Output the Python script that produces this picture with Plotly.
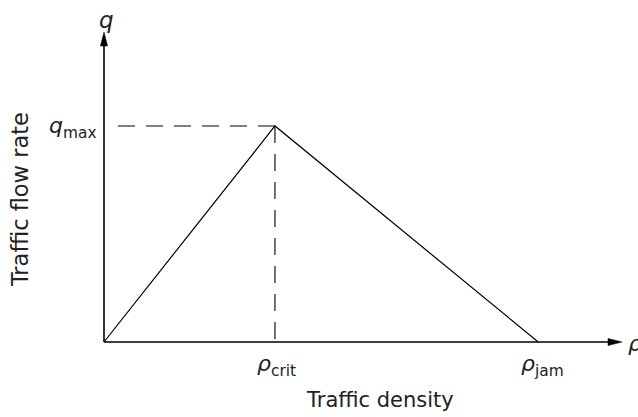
import plotly.graph_objects as go

# Schematic triangular fundamental diagram (dimensionless units)
rho_points = [0.0, 1.0, 2.54]      # origin, rho_crit, rho_jam
q_points = [0.0, 1.0, 0.0]         # flow at those densities
rho_crit = 1.0
rho_jam = 2.54
q_max = 1.0
x_end = 3.03     # end of density axis (arrow tip)
y_end = 1.435    # end of flow axis (arrow tip)

W, H = 638, 417
ML, MR, MT, MB = 104, 16, 32, 75
sx = (W - ML - MR) / x_end   # px per x unit
sy = (H - MT - MB) / y_end   # px per y unit
x_rng = [-ML / sx, (W - ML) / sx]
y_rng = [-MB / sy, (H - MB) / sy]

FONT = "DejaVu Sans, Liberation Sans, sans-serif"
TXT = "#222222"

fig = go.Figure()
fig.add_trace(go.Scatter(x=rho_points, y=q_points, mode="lines",
                         line=dict(color="black", width=1.2),
                         hoverinfo="skip", showlegend=False))
# dashed guide lines
fig.add_trace(go.Scatter(x=[rho_crit, 13 / sx], y=[q_max, q_max], mode="lines",
                         line=dict(color="black", width=1.1, dash="17px,11px"),
                         hoverinfo="skip", showlegend=False))
fig.add_trace(go.Scatter(x=[rho_crit, rho_crit], y=[q_max, 0], mode="lines",
                         line=dict(color="black", width=1.1, dash="17px,11px"),
                         hoverinfo="skip", showlegend=False))

shapes = []
head_len, head_half = 14, 3.6
# x axis
shapes.append(dict(type="line", x0=0, y0=0, x1=x_end - head_len / sx, y1=0,
                   xref="x", yref="y", line=dict(color="black", width=1.6)))
shapes.append(dict(type="path",
                   path=f"M {x_end:.5f},0 L {x_end - head_len / sx:.5f},{head_half / sy:.5f} "
                        f"L {x_end - head_len / sx:.5f},{-head_half / sy:.5f} Z",
                   xref="x", yref="y", fillcolor="black", line=dict(color="black", width=0.5)))
# y axis
shapes.append(dict(type="line", x0=0, y0=0, x1=0, y1=y_end - head_len / sy,
                   xref="x", yref="y", line=dict(color="black", width=1.6)))
shapes.append(dict(type="path",
                   path=f"M 0,{y_end:.5f} L {head_half / sx:.5f},{y_end - head_len / sy:.5f} "
                        f"L {-head_half / sx:.5f},{y_end - head_len / sy:.5f} Z",
                   xref="x", yref="y", fillcolor="black", line=dict(color="black", width=0.5)))

ann = []
def label(text, x, y, size=22, **kw):
    d = dict(text=text, x=x, y=y, xref="x", yref="y", showarrow=False,
             font=dict(family=FONT, size=size, color=TXT))
    d.update(kw)
    ann.append(d)

label("<i>q</i>", 0, y_end, size=23, xanchor="center", yanchor="bottom", xshift=2, yshift=-3)
label("<i>q</i><sub>max</sub>", 0, q_max, xanchor="right", yanchor="middle", xshift=-5, yshift=-2)
label("<i>ρ</i><sub>crit</sub>", rho_crit, 0, xanchor="center", yanchor="top", xshift=2, yshift=-7)
label("<i>ρ</i><sub>jam</sub>", rho_jam, 0, xanchor="center", yanchor="top", xshift=4, yshift=-7)
label("<i>ρ</i>", x_end, 0, xanchor="left", yanchor="middle", xshift=4, yshift=-1)
label("Traffic density", 1.614, 0, size=21, xanchor="center", yanchor="middle", yshift=-58)
label("Traffic flow rate", 0, 0.657, size=22.5, xanchor="center", yanchor="middle",
      xshift=-84, textangle=-90)

fig.update_layout(
    width=W, height=H,
    margin=dict(l=0, r=0, t=0, b=0, pad=0),
    paper_bgcolor="white", plot_bgcolor="white",
    xaxis=dict(range=x_rng, visible=False, fixedrange=True),
    yaxis=dict(range=y_rng, visible=False, fixedrange=True),
    shapes=shapes, annotations=ann, showlegend=False,
)
fig.write_html("out.html", config={"displayModeBar": False},
               post_script="document.body.style.margin='0';")
